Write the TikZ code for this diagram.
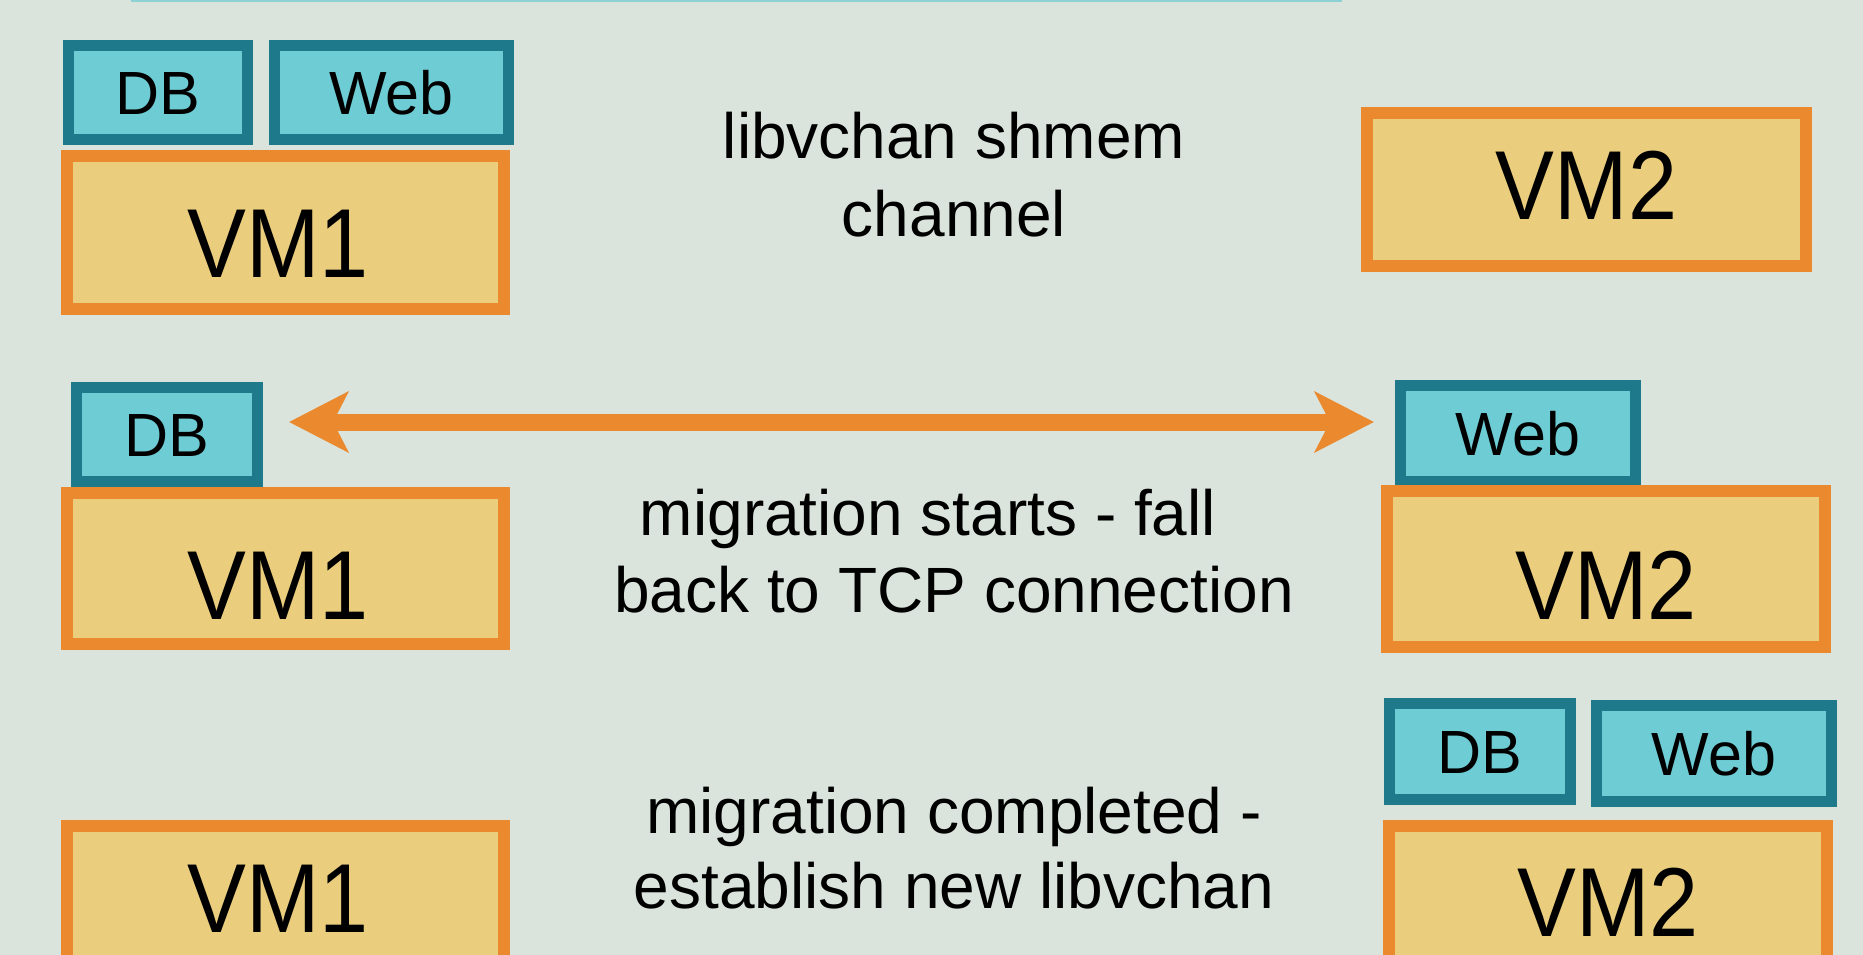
\documentclass[tikz,border=0pt]{standalone}
\usepackage{fontspec}
\setmainfont{Liberation Sans}
\newfontfamily\vmfont[FakeStretch=0.9]{Liberation Sans}
\usetikzlibrary{arrows.meta}
\definecolor{bgc}{RGB}{218,228,220}
\definecolor{vmfill}{RGB}{234,205,125}
\definecolor{vmborder}{RGB}{234,137,46}
\definecolor{tagfill}{RGB}{110,204,212}
\definecolor{tagborder}{RGB}{30,122,138}
\definecolor{arrowc}{RGB}{234,137,46}
\definecolor{topline}{RGB}{140,210,212}
\tikzset{
  vmbox/.style={draw=vmborder, fill=vmfill, line width=12pt, inner sep=0pt, outer sep=6pt,
    font=\vmfont\fontsize{98}{110}\selectfont, text height=70pt, text depth=0pt},
  tagbox/.style={draw=tagborder, fill=tagfill, line width=11pt, inner sep=0pt, outer sep=5.5pt,
    font=\fontsize{61}{70}\selectfont, text height=44pt, text depth=0pt},
  caption/.style={align=center, inner sep=0pt, anchor=north, text=black},
  conn/.style={draw=arrowc, line width=17pt,
    {Stealth[length=59pt, width=60pt, inset=15pt]}-{Stealth[length=59pt, width=60pt, inset=15pt]}}
}
\begin{document}
\begin{tikzpicture}[x=1pt, y=-1pt]
\clip (0,0) rectangle (1863,955);
\useasboundingbox (0,0) rectangle (1863,955);
\fill[bgc] (0,0) rectangle (1863,955);
\fill[topline] (131,0) rectangle (1342,2.5);

% row 1
\node[tagbox, minimum width=179pt, minimum height=94pt] (db1) at (158,92.5) {DB};
\node[tagbox, minimum width=234pt, minimum height=94pt] (web1) at (391.5,92.5) {Web};
\node[vmbox, minimum width=437pt, minimum height=153pt, text height=90pt] (vm1a) at (285.5,232.5) {\hspace*{-15pt}VM1};
\node[vmbox, minimum width=439pt, minimum height=153pt, text depth=11pt] (vm2a) at (1586.5,189.5) {VM2};
\node[caption, font=\fontsize{64}{78}\selectfont] (cap1) at (954,112) {libvchan shmem\\channel};

% row 2
\node[tagbox, minimum width=181pt, minimum height=94pt] (db2) at (167,434.5) {DB};
\node[vmbox, minimum width=437pt, minimum height=151pt, text height=101pt] (vm1b) at (285.5,568.5) {\hspace*{-15pt}VM1};
\node[tagbox, minimum width=235pt, minimum height=96pt] (web2) at (1518,433.5) {Web};
\node[vmbox, minimum width=438pt, minimum height=156pt, text height=100pt] (vm2b) at (1606,569) {VM2};
\node[caption, font=\fontsize{64}{77}\selectfont] (cap2) at (954,489) {migration starts - fall\hspace*{52pt}\\back to TCP connection};
\coordinate (al) at ([xshift=26pt, yshift=12.5pt]db2.east);
\coordinate (ar) at ([xshift=-21pt, yshift=11.5pt]web2.west);
\draw[conn] (al) -- (ar);

% row 3
\node[vmbox, minimum width=437pt, minimum height=143pt] (vm1c) at (285.5,897.5) {\hspace*{-15pt}VM1};
\node[tagbox, minimum width=181pt, minimum height=96pt] (db3) at (1480,751.5) {DB};
\node[tagbox, minimum width=235pt, minimum height=96pt] (web3) at (1714,753.5) {Web};
\node[vmbox, minimum width=438pt, minimum height=150pt] (vm2c) at (1608,901) {VM2};
\node[caption, font=\fontsize{64}{75}\selectfont] (cap3) at (954,787) {migration completed -\\establish new libvchan};
\end{tikzpicture}
\end{document}
